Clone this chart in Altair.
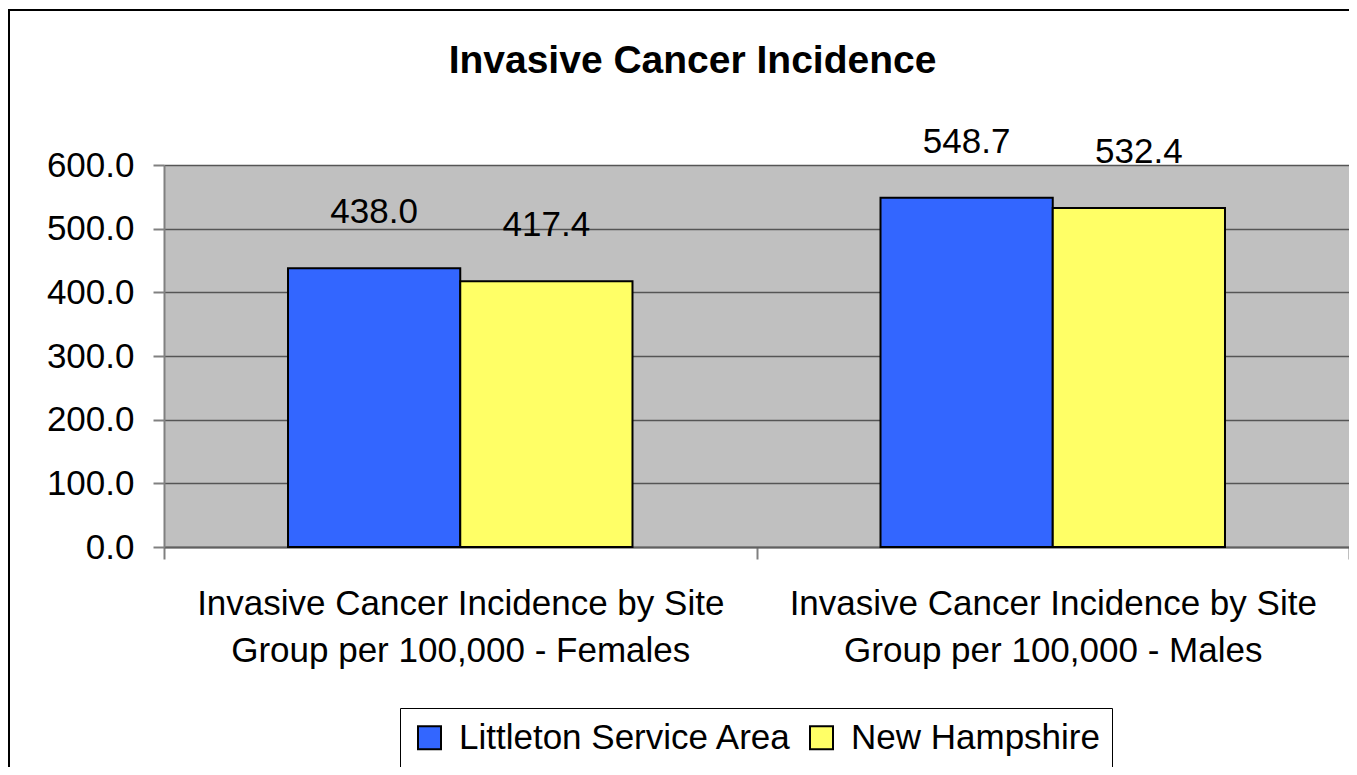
import altair as alt
import pandas as pd

categories = [
    "Invasive Cancer Incidence by Site|Group per 100,000 - Females",
    "Invasive Cancer Incidence by Site|Group per 100,000 - Males",
]
series = ["Littleton Service Area", "New Hampshire"]
littleton = [438.0, 548.7]
new_hampshire = [417.4, 532.4]
y_ticks = [0, 100, 200, 300, 400, 500, 600]
colors = ["#3366FF", "#FFFF66"]

rows = []
for i, c in enumerate(categories):
    rows.append({"group": c, "series": series[0], "value": littleton[i]})
    rows.append({"group": c, "series": series[1], "value": new_hampshire[i]})
df = pd.DataFrame(rows)

FONT = "Liberation Sans"
W, H = 1185, 382

x = alt.X(
    "group:N", sort=categories, title=None,
    scale=alt.Scale(paddingInner=0, paddingOuter=0),
    axis=alt.Axis(
        labelExpr="split(datum.label, '|')", labelAngle=0, labelFontSize=35,
        labelFont=FONT, labelColor="black", labelLineHeight=47, labelPadding=27,
        labelLimit=1000, labelBaseline="top", tickBand="extent", tickSize=12,
        tickColor="#808080", tickWidth=2, domainColor="#606060", domainWidth=2,
    ),
)
y = alt.Y(
    "value:Q", title=None,
    scale=alt.Scale(domain=[0, 600], nice=False),
    axis=alt.Axis(
        values=y_ticks, format=".1f", labelFontSize=35, labelFont=FONT,
        labelColor="black", labelPadding=19, tickSize=11, tickColor="#808080",
        tickWidth=2, domainColor="#808080", domainWidth=2, grid=True,
        gridColor="#555555", gridWidth=1.5,
    ),
)
xo = alt.XOffset("series:N", sort=series,
                 scale=alt.Scale(paddingInner=0, paddingOuter=0.72))

bars = alt.Chart(df).mark_bar(stroke="black", strokeWidth=2, opacity=1).encode(
    x=x, xOffset=xo, y=y,
    color=alt.Color(
        "series:N", sort=series,
        scale=alt.Scale(domain=series, range=colors),
        legend=alt.Legend(
            orient="none", legendX=236, legendY=543, direction="horizontal",
            title=None, labelFontSize=35, labelFont=FONT, labelColor="black",
            labelLimit=1000, symbolType="square", symbolSize=529,
            symbolStrokeWidth=2, symbolStrokeColor="black", symbolOpacity=1,
            fillColor="white", strokeColor="black", padding=12, labelOffset=12,
            columnPadding=12,
        ),
    ),
)

labels = alt.Chart(df).mark_text(
    fontSize=35, font=FONT, baseline="alphabetic", dy=-45, color="black"
).encode(x=x, xOffset=xo, y=y, text=alt.Text("value:Q", format=".1f"))

border = alt.Chart(pd.DataFrame({"k": [0]})).mark_rect(
    fillOpacity=0, stroke="black", strokeWidth=2
).encode(
    x=alt.value(-155), x2=alt.value(1400), y=alt.value(-155), y2=alt.value(900)
)

chart = alt.layer(border, bars, labels).properties(
    width=W, height=H,
    autosize="none",
    background="white",
    padding={"left": 156, "top": 157, "right": 0, "bottom": 220},
    title=alt.Title(
        "Invasive Cancer Incidence", fontSize=39, font=FONT, fontWeight="bold",
        color="black", anchor="middle", dx=-64, offset=0, dy=72,
    ),
).configure_view(strokeWidth=0, fill="#C0C0C0")

chart.save("out.html", embed_options={"renderer": "svg", "actions": False})
